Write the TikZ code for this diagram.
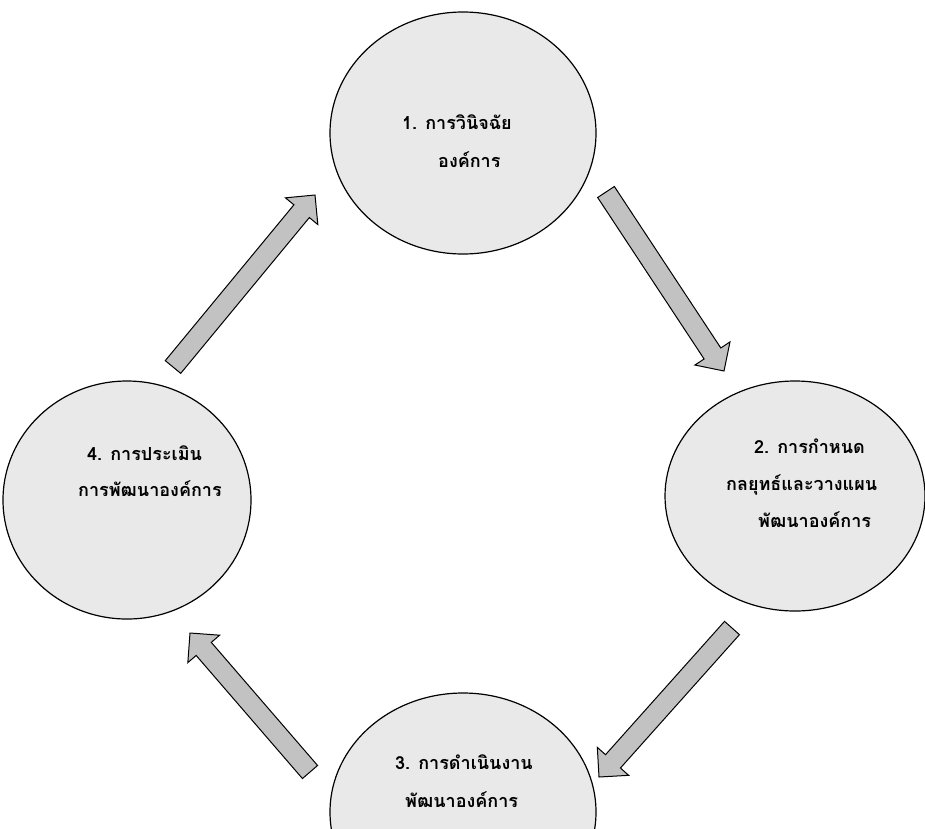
\documentclass[tikz,border=0pt]{standalone}
\usepackage{fontspec}
\newfontfamily\thaifont[Script=Thai]{Loma}
\usetikzlibrary{shapes.geometric,calc}
\definecolor{ellfill}{RGB}{233,233,233}
\definecolor{arrfill}{RGB}{194,194,194}
\tikzset{
  stage/.style={ellipse, draw=black, line width=1.2pt, fill=ellfill, inner sep=0pt},
  lbl/.style={anchor=base west, inner sep=0pt, font=\thaifont\bfseries\fontsize{18}{20}\selectfont},
  blockarr/.style={draw=black, line width=1pt, fill=arrfill, line join=miter},
}
\newcommand{\blockarrow}[2]{%
  \coordinate (#1-neck) at ($(#2)!21pt!(#1)$);
  \draw[blockarr] ($(#1)!10pt!90:(#2)$) -- ($(#1-neck)!10pt!90:(#2)$)
    -- ($(#1-neck)!21pt!90:(#2)$) -- (#2) -- ($(#1-neck)!21pt!-90:(#2)$)
    -- ($(#1-neck)!10pt!-90:(#2)$) -- ($(#1)!10pt!-90:(#2)$) -- cycle;
}
\begin{document}
\begin{tikzpicture}[x=1pt,y=-1pt]
  \clip (0,0) rectangle (925,828);
  \fill[white] (0,0) rectangle (925,828);
  % stages
  \node[stage, minimum width=266pt, minimum height=242pt] (e1) at (463,133) {};
  \node[stage, minimum width=260pt, minimum height=230pt] (e2) at (795,496) {};
  \node[stage, minimum width=266pt, minimum height=238pt] (e3) at (463,812) {};
  \node[stage, minimum width=248pt, minimum height=238pt] (e4) at (127,500) {};
  % labels
  \node[lbl] (e1a) at (402,129) {1. การวินิจฉัย};
  \node[lbl] (e1b) at (438,167) {องค์การ};
  \node[lbl] (e2a) at (754,453) {2. การกำหนด};
  \node[lbl] (e2b) at (726,490) {กลยุทธ์และวางแผน};
  \node[lbl] (e2c) at (758,527) {พัฒนาองค์การ};
  \node[lbl] (e3a) at (395,769) {3. การดำเนินงาน};
  \node[lbl] (e3b) at (405,807) {พัฒนาองค์การ};
  \node[lbl] (e4a) at (87,460) {4. การประเมิน};
  \node[lbl] (e4b) at (78,496) {การพัฒนาองค์การ};
  % arrow ends
  \coordinate (atail) at (606,192); \coordinate (atip) at (724,371);
  \coordinate (btail) at (732,628); \coordinate (btip) at (599,777);
  \coordinate (ctail) at (310,772); \coordinate (ctip) at (190,633);
  \coordinate (dtail) at (173,367); \coordinate (dtip) at (315,195);
  \blockarrow{atail}{atip}
  \blockarrow{btail}{btip}
  \blockarrow{ctail}{ctip}
  \blockarrow{dtail}{dtip}
\end{tikzpicture}
\end{document}
